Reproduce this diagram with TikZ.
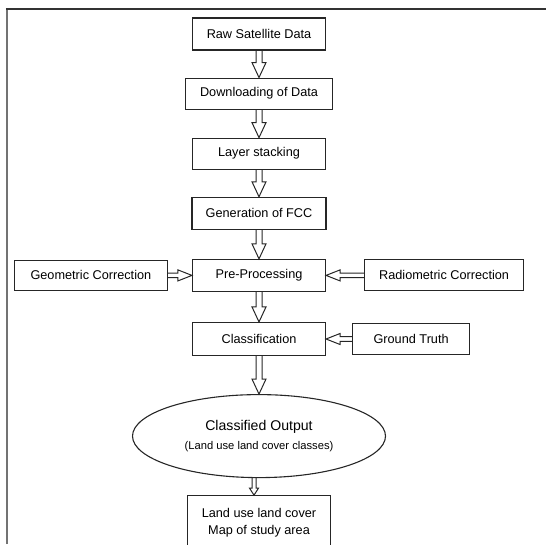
\documentclass[tikz,border=0pt]{standalone}
\usepackage{fontspec}
\setmainfont{Liberation Sans}
\usetikzlibrary{positioning,calc,shapes.geometric}

\begin{document}
\begin{tikzpicture}[x=1pt,y=-1pt,node distance=27pt,
  box/.style={draw=black!85,line width=1.1pt,minimum width=133pt,minimum height=32pt,align=center,
    font=\fontsize{12.7}{16.5}\selectfont,text=black},
  % block arrow outline: #1 half shaft, #2 half head, #3 head length
  hollow/.style n args={3}{draw=black!85,line width=1pt,to path={
    let \p1=(\tikztostart), \p2=(\tikztotarget),
        \n1={veclen(\x2-\x1,\y2-\y1)},
        \n2={(\x2-\x1)/\n1}, \n3={(\y2-\y1)/\n1} in
    ({\x1-(\n3)*#1},{\y1+(\n2)*#1})
    -- ({\x2-(\n2)*#3-(\n3)*#1},{\y2-(\n3)*#3+(\n2)*#1})
    -- ({\x2-(\n2)*#3-(\n3)*#2},{\y2-(\n3)*#3+(\n2)*#2})
    -- (\x2,\y2)
    -- ({\x2-(\n2)*#3+(\n3)*#2},{\y2-(\n3)*#3-(\n2)*#2})
    -- ({\x2-(\n2)*#3+(\n3)*#1},{\y2-(\n3)*#3-(\n2)*#1})
    -- ({\x1+(\n3)*#1},{\y1-(\n2)*#1})}}]
  \useasboundingbox (0,0) rectangle (546,544);

  % page frame
  \draw[black!55,line width=2.2pt] (7,544) -- (7,9);
  \draw[black!80,line width=1.6pt] (5.9,9) -- (546,9);

  % main chain
  \node[box] (raw) at (259,34) {Raw Satellite Data};
  \node[box,minimum width=147pt,minimum height=31pt,below=27pt of raw] (dl) {Downloading of Data};
  \node[box,minimum height=31pt,below=28pt of dl] (stack) {Layer stacking};
  \node[box,minimum width=134pt,below=27pt of stack] (fcc) {Generation of FCC};
  \node[box,below=29pt of fcc] (pre) {Pre-Processing};
  \node[box,minimum width=153pt,minimum height=30pt,left=24pt of pre] (geo) {Geometric Correction};
  \node[box,minimum width=159pt,minimum height=31pt,right=38pt of pre] (rad) {Radiometric Correction};
  \node[box,minimum height=33pt,below=30pt of pre] (cls) {Classification};
  \node[box,minimum width=117pt,minimum height=31pt,right=26pt of cls] (gt) {Ground Truth};
  \node[draw=black!85,line width=1.1pt,ellipse,minimum width=253pt,minimum height=83pt,align=center,
    text=black,below=38pt of cls] (out)
    {{\fontsize{14.1}{17}\selectfont Classified Output}\\[7pt]
     {\fontsize{11.2}{14}\selectfont (Land use land cover classes)}};
  \node[box,minimum width=143pt,minimum height=54pt,below=17pt of out] (map)
    {Land use land cover\\Map of study area};

  % flow arrows
  \draw[hollow={3pt}{7pt}{15pt}] (raw.south) to (dl.north);
  \draw[hollow={3pt}{7pt}{15pt}] (dl.south) to (stack.north);
  \draw[hollow={3pt}{7pt}{15pt}] (stack.south) to (fcc.north);
  \draw[hollow={3pt}{7pt}{15pt}] (fcc.south) to (pre.north);
  \draw[hollow={3pt}{7pt}{15pt}] (pre.south) to (cls.north);
  \draw[hollow={3pt}{7pt}{15pt}] (cls.south) to (out.north);
  \draw[hollow={2.3pt}{5.5pt}{14pt}] (geo.east) to (pre.west);
  \draw[hollow={2.3pt}{5.5pt}{14pt}] (rad.west) to (pre.east);
  \draw[hollow={2.3pt}{5.5pt}{14pt}] (gt.west) to (cls.east);
  \draw[hollow={2pt}{4.5pt}{7pt}] ([xshift=-5pt]out.south) to ([xshift=-5pt]map.north);
\end{tikzpicture}
\end{document}
